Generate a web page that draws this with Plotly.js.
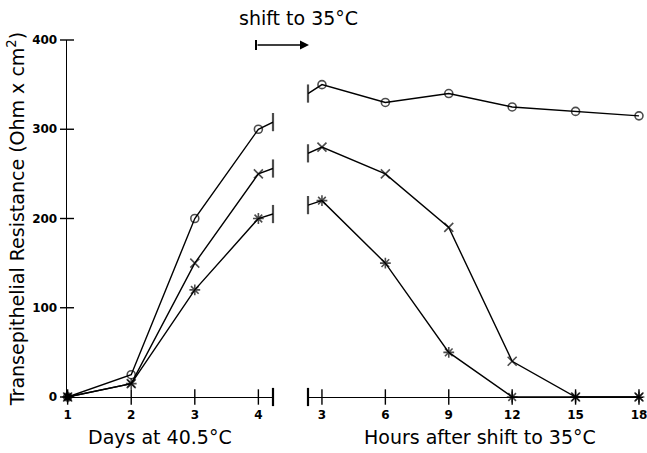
<!DOCTYPE html>
<html><head><meta charset="utf-8">
<script src="https://cdn.plot.ly/plotly-3.0.1.min.js"></script>
<style>body{margin:0;background:#fff}</style>
</head><body><div id="chart" style="width:647px;height:453px"></div>
<script>
// ---- data ----
const days = [1, 2, 3, 4];
const hours = [3, 6, 9, 12, 15, 18];
const daysO = [0, 25, 200, 300];
const daysX = [0, 15, 150, 250];
const daysStar = [0, 15, 120, 200];
const hoursO = [350, 330, 340, 325, 320, 315];
const hoursX = [280, 250, 190, 40, 0, 0];
const hoursStar = [220, 150, 50, 0, 0, 0];
// where the curves are cut at the axis breaks
const breakDay = 4.23;
const breakHour = 2.34;
const breakDayValues = [308, 256, 205];
const breakHourValues = [340, 273, 215];
const yTicks = [0, 100, 200, 300, 400];
const dayTicks = [1, 2, 3, 4];
const hourTicks = [3, 6, 9, 12, 15, 18];
const dayRange = [0.99, breakDay];
const hourRange = [breakHour, 18.19];

const FONT = 'DejaVu Sans, Liberation Sans, sans-serif';
const symbols = ['circle-open', 'x-thin-open', 'asterisk-open'];
const sizes = [8, 9, 9];
const dayVals = [daysO, daysX, daysStar];
const hourVals = [hoursO, hoursX, hoursStar];

const traces = [];
for (let i = 0; i < 3; i++) {
  const nL = days.length;
  traces.push({
    type: 'scatter', mode: 'lines+markers', xaxis: 'x', yaxis: 'y',
    x: days.concat([breakDay]), y: dayVals[i].concat([breakDayValues[i]]),
    line: {color: '#000', width: 1.4},
    marker: {symbol: Array(nL).fill(symbols[i]).concat(['line-ns-open']),
             size: Array(nL).fill(sizes[i]).concat([13]),
             color: '#000', line: {color: '#000', width: Array(nL).fill(1.6).concat([2.2])}},
    cliponaxis: false, showlegend: false, hoverinfo: 'x+y'
  });
  const nR = hours.length;
  traces.push({
    type: 'scatter', mode: 'lines+markers', xaxis: 'x2', yaxis: 'y',
    x: [breakHour].concat(hours), y: [breakHourValues[i]].concat(hourVals[i]),
    line: {color: '#000', width: 1.4},
    marker: {symbol: ['line-ns-open'].concat(Array(nR).fill(symbols[i])),
             size: [13].concat(Array(nR).fill(sizes[i])),
             color: '#000', line: {color: '#000', width: [2.2].concat(Array(nR).fill(1.6))}},
    cliponaxis: false, showlegend: false, hoverinfo: 'x+y'
  });
}
// axis break marks on the x axes
traces.push({type: 'scatter', mode: 'markers', xaxis: 'x', yaxis: 'y', x: [breakDay], y: [0],
  marker: {symbol: 'line-ns-open', size: 13, color: '#000', line: {color: '#000', width: 2.2}},
  cliponaxis: false, showlegend: false, hoverinfo: 'skip'});
traces.push({type: 'scatter', mode: 'markers', xaxis: 'x2', yaxis: 'y', x: [breakHour], y: [0],
  marker: {symbol: 'line-ns-open', size: 13, color: '#000', line: {color: '#000', width: 2.2}},
  cliponaxis: false, showlegend: false, hoverinfo: 'skip'});
// crossing tick marks (plotter style "+")
traces.push({type: 'scatter', mode: 'markers', xaxis: 'x', yaxis: 'y', x: dayTicks, y: dayTicks.map(() => 0),
  marker: {symbol: 'line-ns-open', size: 11, color: '#000', line: {color: '#000', width: 1.4}},
  cliponaxis: false, showlegend: false, hoverinfo: 'skip'});
traces.push({type: 'scatter', mode: 'markers', xaxis: 'x2', yaxis: 'y', x: hourTicks, y: hourTicks.map(() => 0),
  marker: {symbol: 'line-ns-open', size: 11, color: '#000', line: {color: '#000', width: 1.4}},
  cliponaxis: false, showlegend: false, hoverinfo: 'skip'});
traces.push({type: 'scatter', mode: 'markers', xaxis: 'x', yaxis: 'y', x: yTicks.map(() => dayRange[0]), y: yTicks,
  marker: {symbol: 'line-ew-open', size: 10, color: '#000', line: {color: '#000', width: 1.4}},
  cliponaxis: false, showlegend: false, hoverinfo: 'skip'});
// filled blob at day 1 origin
traces.push({type: 'scatter', mode: 'markers', xaxis: 'x', yaxis: 'y', x: [days[0]], y: [daysO[0]],
  marker: {symbol: 'circle', size: 7, color: '#000'}, cliponaxis: false, showlegend: false, hoverinfo: 'skip'});

const tickFont = {family: FONT, size: 12, color: '#000', weight: 'bold'};
const titleFont = {family: FONT, size: 19, color: '#000'};
const L = 67, W = 647, R = 4, T = 40, B = 56;
const pw = W - L - R, ph = 453 - T - B;
const d1 = [0, (273 - L) / pw];
const d2 = [(308 - L) / pw, 1];
const px = v => (v - L) / pw;      // layout helpers for annotation placement
const py = v => (453 - B - v) / ph;

const axisCommon = {showgrid: false, zeroline: false, showline: true, linecolor: '#000', linewidth: 1.4,
  ticks: '', tickfont: tickFont, ticklabeloverflow: 'allow', ticklabelstandoff: 6};

const layout = {
  width: 647, height: 453,
  margin: {l: L, r: R, t: T, b: B},
  paper_bgcolor: '#fff', plot_bgcolor: 'rgba(0,0,0,0)',
  showlegend: false,
  font: {family: FONT, color: '#000'},
  xaxis: Object.assign({domain: d1, range: dayRange, tickvals: dayTicks, ticktext: dayTicks.map(String), anchor: 'y'}, axisCommon),
  xaxis2: Object.assign({domain: d2, range: hourRange, tickvals: hourTicks, ticktext: hourTicks.map(String), anchor: 'y'}, axisCommon),
  yaxis: Object.assign({range: [0, 400], tickvals: yTicks, ticktext: yTicks.map(String), anchor: 'x',
    title: {text: 'Transepithelial Resistance (Ohm x cm<sup>2</sup>)', font: {family: FONT, size: 19, color: '#000'}, standoff: 2}}, axisCommon),
  annotations: [
    {xref: 'paper', yref: 'paper', x: px(160), y: py(437), xanchor: 'center', yanchor: 'middle',
     text: 'Days at 40.5°C', showarrow: false, font: titleFont},
    {xref: 'paper', yref: 'paper', x: px(480), y: py(437), xanchor: 'center', yanchor: 'middle',
     text: 'Hours after shift to 35°C', showarrow: false, font: titleFont},
    {xref: 'paper', yref: 'paper', x: px(298), y: py(18), xanchor: 'center', yanchor: 'middle',
     text: 'shift to 35°C', showarrow: false, font: titleFont},
    {xref: 'paper', yref: 'paper', x: px(309), y: py(45), ax: -53, ay: 0,
     text: '', showarrow: true, arrowhead: 2, arrowsize: 1.2, arrowwidth: 1.5, arrowcolor: '#000'}
  ],
  shapes: [
    {type: 'line', xref: 'paper', yref: 'paper', x0: px(256), x1: px(256),
     y0: py(40), y1: py(50), line: {color: '#000', width: 2}}
  ]
};

Plotly.newPlot('chart', traces, layout, {displayModeBar: false, staticPlot: true});
</script>
</body></html>
